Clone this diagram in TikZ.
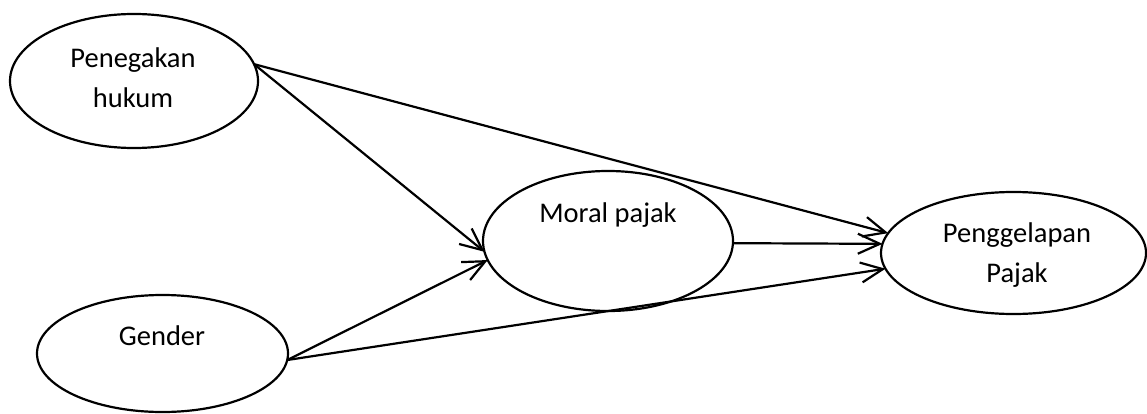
\documentclass[tikz,border=0pt]{standalone}
\usepackage{fontspec}
\setmainfont{Carlito}
\usetikzlibrary{shapes.geometric,arrows.meta}

\tikzset{
  construct/.style={ellipse, draw, line width=2.2pt, inner sep=0pt, outer sep=0pt},
  lbl/.style={anchor=base, align=center, inner sep=0pt,
              font=\fontsize{28.5}{40}\selectfont},
  path/.style={line width=2.2pt,
               -{Straight Barb[length=22pt, width=20pt, line width=2.2pt]}}
}

\begin{document}
\begin{tikzpicture}[x=1pt, y=-1pt]
  \useasboundingbox (0,0) rectangle (1147,414);

  % latent constructs
  \node[construct, minimum width=248pt, minimum height=134pt] (pen) at (134,81) {};
  \node[construct, minimum width=251pt, minimum height=117pt] (gen) at (162.5,353.5) {};
  \node[construct, minimum width=250pt, minimum height=140pt] (mor) at (608,241) {};
  \node[construct, minimum width=265pt, minimum height=122pt] (pgl) at (1013.5,253) {};

  % construct names (base anchor sits on the last line)
  \node[lbl] (penT) at (133,108) {Penegakan\\hukum};
  \node[lbl] (genT) at (162,345) {Gender};
  \node[lbl] (morT) at (608,222) {Moral pajak};
  \node[lbl] (pglT) at (1017,282) {Penggelapan\\Pajak};

  % hypothesised paths
  \draw[path] (pen.8.8) -- (mor.185.2);
  \draw[path] (pen.8.8) -- (pgl.171.3);
  \draw[path] (gen.-3.9) -- (mor.189.8);
  \draw[path] (gen.-3.9) -- (pgl.187.4);
  \draw[path] (mor.-1.8) -- (pgl.176.5);
\end{tikzpicture}
\end{document}
